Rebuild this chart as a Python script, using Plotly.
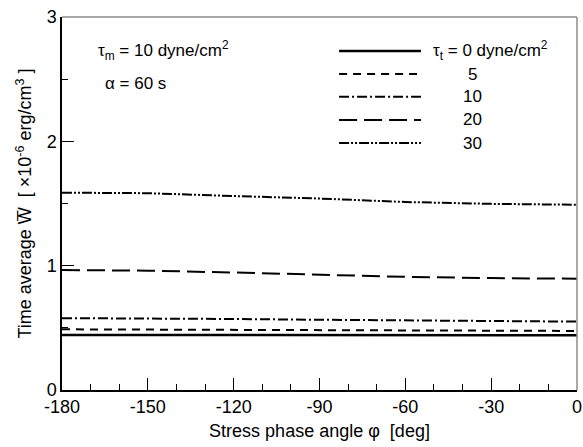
import plotly.graph_objects as go

phi = [-180, -150, -120, -90, -60, -30, 0]
w_t0 = [0.443, 0.443, 0.442, 0.442, 0.441, 0.441, 0.440]
w_t5 = [0.488, 0.486, 0.483, 0.480, 0.478, 0.476, 0.475]
w_t10 = [0.578, 0.577, 0.571, 0.565, 0.558, 0.553, 0.550]
w_t20 = [0.965, 0.960, 0.945, 0.925, 0.910, 0.900, 0.895]
w_t30 = [1.587, 1.583, 1.560, 1.540, 1.512, 1.497, 1.490]

x_tickvals = [-180, -150, -120, -90, -60, -30, 0]
x_ticktext = ["-180", "-150", "-120", "-90", "-60", "-30", "0"]
y_tickvals = [0, 1, 2, 3]
y_ticktext = ["0", "1", "2", "3"]

series = [
    ("0", w_t0, "solid", 2.5),
    ("5", w_t5, "8px,6px", 2),
    ("10", w_t10, "10px,3px,2px,3px", 2),
    ("20", w_t20, "18px,7px", 2),
    ("30", w_t30, "10px,2px,2px,2px,2px,2px", 2),
]
legend_labels = ["τ<sub>t</sub> = 0 dyne/cm<sup>2</sup>", "5", "10", "20", "30"]

FONT = "Liberation Sans, Arial, Helvetica, sans-serif"

fig = go.Figure()
for name, vals, dash, w in series:
    fig.add_trace(go.Scatter(x=phi, y=vals, mode="lines", name=name,
                             line=dict(color="black", width=w, dash=dash),
                             showlegend=False, hoverinfo="skip"))

# legend samples (paper coordinates)
leg_y = [0.909, 0.847, 0.786, 0.724, 0.662]
for (name, vals, dash, w), yy, lab in zip(series, leg_y, legend_labels):
    fig.add_shape(type="line", xref="paper", yref="paper", x0=0.538, x1=0.697,
                  y0=yy, y1=yy, line=dict(color="black", width=w, dash=dash))
    if lab.startswith("τ"):
        fig.add_annotation(xref="paper", yref="paper", x=0.716, y=yy, text=lab,
                           showarrow=False, xanchor="left", yanchor="middle",
                           font=dict(family=FONT, size=17, color="black"))
    else:
        fig.add_annotation(xref="paper", yref="paper", x=0.798, y=yy, text=lab,
                           showarrow=False, xanchor="center", yanchor="middle",
                           font=dict(family=FONT, size=17, color="black"))

fig.add_annotation(xref="paper", yref="paper", x=0.066, y=0.91,
                   text="τ<sub>m</sub> = 10 dyne/cm<sup>2</sup>", showarrow=False,
                   xanchor="left", yanchor="middle",
                   font=dict(family=FONT, size=17, color="black"))
fig.add_annotation(xref="paper", yref="paper", x=0.080, y=0.822,
                   text="α = 60 s", showarrow=False,
                   xanchor="left", yanchor="middle",
                   font=dict(family=FONT, size=17, color="black"))

# gray top and right border
fig.add_shape(type="line", xref="paper", yref="paper", x0=0, x1=1, y0=1, y1=1,
              line=dict(color="#8c8c8c", width=1.5))
fig.add_shape(type="line", xref="paper", yref="paper", x0=1, x1=1, y0=0, y1=1,
              line=dict(color="#8c8c8c", width=1.5))

fig.update_layout(
    width=583, height=447,
    margin=dict(l=62, r=6, t=17, b=57),
    paper_bgcolor="white", plot_bgcolor="white",
    font=dict(family=FONT, size=18, color="black"),
    showlegend=False,
)
fig.update_xaxes(
    range=[-180, 0], tickmode="array", tickvals=x_tickvals, ticktext=x_ticktext,
    ticks="inside", ticklen=12, tickwidth=1, tickcolor="black",
    minor=dict(dtick=10, ticks="inside", ticklen=6, tickcolor="black", tickwidth=1, showgrid=False),
    showgrid=False, zeroline=False, showline=True, linecolor="black", linewidth=1.5,
    title=dict(text="Stress phase angle φ  [deg]", standoff=8, font=dict(size=18)),
    tickfont=dict(size=18), automargin=False,
)
fig.update_yaxes(
    range=[0, 3], tickmode="array", tickvals=y_tickvals, ticktext=y_ticktext,
    ticks="inside", ticklen=12, tickwidth=1, tickcolor="black",
    minor=dict(dtick=0.5, ticks="inside", ticklen=6, tickcolor="black", tickwidth=1, showgrid=False),
    showgrid=False, zeroline=False, showline=True, linecolor="black", linewidth=1.5,
    title=dict(text="Time average W\u0305  [ ×10<sup>-6</sup> erg/cm<sup>3</sup> ]", standoff=10, font=dict(size=18)),
    tickfont=dict(size=18), automargin=False,
)

fig.write_html("out.html", config={"displayModeBar": False},
               post_script="document.body.style.margin='0';document.body.style.overflow='hidden';")
